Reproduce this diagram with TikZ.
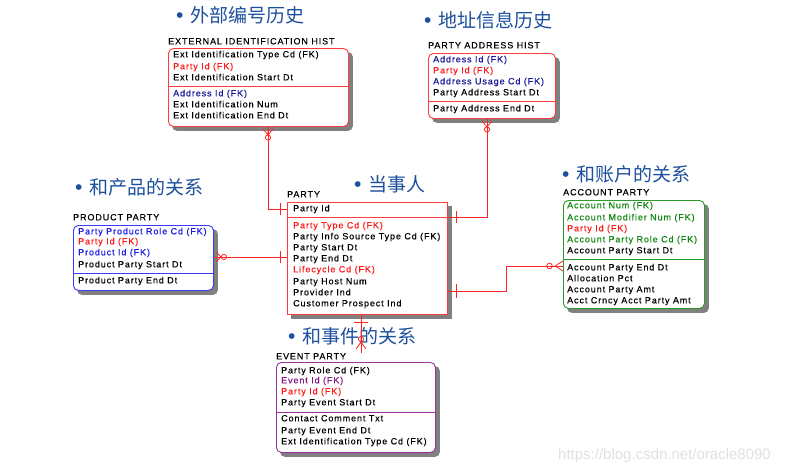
\documentclass[tikz,border=0pt]{standalone}
\usepackage{fontspec}
\setmainfont{Liberation Sans}
\newfontfamily\cjk{Noto Sans CJK SC}
\newfontfamily\bulfont{Liberation Sans}
\newfontfamily\erfont[LetterSpace=10,FakeBold=0.4]{Liberation Sans}
\usetikzlibrary{backgrounds,calc}
\definecolor{hd}{HTML}{1C4F9C}
\definecolor{tred}{HTML}{FF1A1A}
\definecolor{tnavy}{HTML}{1A1A99}
\definecolor{tblue}{HTML}{1A1AE6}
\definecolor{tgreen}{HTML}{118811}
\definecolor{tpurple}{HTML}{881A88}
\definecolor{bred}{HTML}{FF3B3B}
\definecolor{bblue}{HTML}{3A3AFF}
\definecolor{bgreen}{HTML}{2A9A2A}
\definecolor{bpurple}{HTML}{993399}
\definecolor{relred}{HTML}{FF2222}
\tikzset{
  ent/.style={draw, line width=0.9pt, fill=white, rounded corners=5pt, anchor=north west, inner sep=0pt},
  shad/.style={fill=black!50, rounded corners=5pt},
  row/.style={anchor=west, inner sep=0pt, text height=6.5pt, text depth=1.8pt, font=\erfont\fontsize{9}{10}\selectfont},
  ttl/.style={row},
  lab/.style={anchor=west, inner sep=0pt, text=hd, text height=15.5pt, text depth=3pt, font=\cjk\fontsize{19}{21}\selectfont},
  rel/.style={draw=relred, line width=0.8pt},
  sym/.style={draw=relred, line width=0.8pt},
}
\newcommand{\bul}{{\bulfont\fontsize{21}{21}\selectfont\raisebox{-0.5pt}{•}}\hspace{6.5pt}}
\begin{document}
\begin{tikzpicture}[x=1pt,y=-1pt]
\useasboundingbox (0,0) rectangle (792,475);

% ---------- headings ----------
\node[lab] (l1) at (176,16) {\bul 外部编号历史};
\node[lab] (l2) at (424,21) {\bul 地址信息历史};
\node[lab] (l3) at (75,188) {\bul 和产品的关系};
\node[lab] (l4) at (354,185) {\bul 当事人};
\node[lab] (l5) at (562,175) {\bul 和账户的关系};
\node[lab] (l6) at (288,337) {\bul 和事件的关系};

% ---------- EXTERNAL IDENTIFICATION HIST ----------
\node[ttl] (extT) at (168,42) {EXTERNAL IDENTIFICATION HIST};
\node[ent, draw=bred, minimum width=180, minimum height=78] (ext) at (168,48) {};
\draw[bred, line width=0.9pt] (ext.west |- 0,86) -- (ext.east |- 0,86);
\node[row] (ext1) at (173,55) {Ext Identification Type Cd (FK)};
\node[row, text=tred] (ext2) at (173,67) {Party Id (FK)};
\node[row] (ext3) at (173,78) {Ext Identification Start Dt};
\node[row, text=tnavy] (ext4) at (173,94) {Address Id (FK)};
\node[row] (ext5) at (173,105) {Ext Identification Num};
\node[row] (ext6) at (173,116) {Ext Identification End Dt};

% ---------- PARTY ADDRESS HIST ----------
\node[ttl] (adrT) at (428,46) {PARTY ADDRESS HIST};
\node[ent, draw=bred, minimum width=127, minimum height=65] (adr) at (428,53) {};
\draw[bred, line width=0.9pt] (adr.west |- 0,101) -- (adr.east |- 0,101);
\node[row, text=tnavy] (adr1) at (433,60) {Address Id (FK)};
\node[row, text=tred] (adr2) at (433,71) {Party Id (FK)};
\node[row, text=tnavy] (adr3) at (433,82) {Address Usage Cd (FK)};
\node[row] (adr4) at (433,93) {Party Address Start Dt};
\node[row] (adr5) at (433,109) {Party Address End Dt};

% ---------- PRODUCT PARTY ----------
\node[ttl] (prdT) at (73,218) {PRODUCT PARTY};
\node[ent, draw=bblue, minimum width=140, minimum height=65] (prd) at (73,225) {};
\draw[bblue, line width=0.9pt] (prd.west |- 0,273) -- (prd.east |- 0,273);
\node[row, text=tblue] (prd1) at (78,232) {Party Product Role Cd (FK)};
\node[row, text=tred] (prd2) at (78,242) {Party Id (FK)};
\node[row, text=tblue] (prd3) at (78,253) {Product Id (FK)};
\node[row] (prd4) at (78,265) {Product Party Start Dt};
\node[row] (prd5) at (78,281) {Product Party End Dt};

% ---------- PARTY ----------
\node[ttl] (ptyT) at (287,195) {PARTY};
\node[ent, draw=bred, rounded corners=0pt, minimum width=160, minimum height=112] (pty) at (287,202) {};
\draw[bred, line width=0.9pt] (pty.west |- 0,217) -- (pty.east |- 0,217);
\node[row] (pid) at (293,209) {Party Id};
\node[row, text=tred] (pty1) at (293,226) {Party Type Cd (FK)};
\node[row] (pty2) at (293,237) {Party Info Source Type Cd (FK)};
\node[row] (pty3) at (293,248) {Party Start Dt};
\node[row] (pty4) at (293,259) {Party End Dt};
\node[row, text=tred] (pty5) at (293,270) {Lifecycle Cd (FK)};
\node[row] (pty6) at (293,282) {Party Host Num};
\node[row] (pty7) at (293,293) {Provider Ind};
\node[row] (pty8) at (293,304) {Customer Prospect Ind};

% ---------- ACCOUNT PARTY ----------
\node[ttl] (accT) at (563,193) {ACCOUNT PARTY};
\node[ent, draw=bgreen, minimum width=141, minimum height=108] (acc) at (563,200) {};
\draw[bgreen, line width=0.9pt] (acc.west |- 0,259) -- (acc.east |- 0,259);
\node[row, text=tgreen] (acc1) at (567,206) {Account Num (FK)};
\node[row, text=tgreen] (acc2) at (567,218) {Account Modifier Num (FK)};
\node[row, text=tred] (acc3) at (567,229) {Party Id (FK)};
\node[row, text=tgreen] (acc4) at (567,240) {Account Party Role Cd (FK)};
\node[row] (acc5) at (567,251) {Account Party Start Dt};
\node[row] (acc6) at (567,268) {Account Party End Dt};
\node[row] (acc7) at (567,279) {Allocation Pct};
\node[row] (acc8) at (567,290) {Account Party Amt};
\node[row] (acc9) at (567,301) {Acct Crncy Acct Party Amt};

% ---------- EVENT PARTY ----------
\node[ttl] (evtT) at (276,357) {EVENT PARTY};
\node[ent, draw=bpurple, minimum width=159, minimum height=90] (evt) at (276,362) {};
\draw[bpurple, line width=0.9pt] (evt.west |- 0,412) -- (evt.east |- 0,412);
\node[row] (evt1) at (281,371) {Party Role Cd (FK)};
\node[row, text=tpurple] (evt2) at (281,381) {Event Id (FK)};
\node[row, text=tred] (evt3) at (281,392) {Party Id (FK)};
\node[row] (evt4) at (281,403) {Party Event Start Dt};
\node[row] (evt5) at (281,419) {Contact Comment Txt};
\node[row] (evt6) at (281,431) {Party Event End Dt};
\node[row] (evt7) at (281,442) {Ext Identification Type Cd (FK)};

% ---------- shadows ----------
\begin{scope}[on background layer]
  \foreach \b in {ext,adr,prd,acc,evt}
    \fill[shad] ([shift={(4,4)}]\b.north west) rectangle ([shift={(4,4)}]\b.south east);
  \fill[black!50] ([shift={(4,4)}]pty.north west) rectangle ([shift={(4,4)}]pty.south east);
\end{scope}

% ---------- relationships ----------
% EXT HIST -- PARTY
\draw[rel] (ext.south -| 268,0) |- (pty.west |- pid);
\draw[sym] (263,129) -- (268,135) -- (273,129) (268,129) -- (268,135);
\draw[sym] (268,137.5) circle (2.6);
\draw[sym] (280,203) -- (280,215);
% ADDRESS HIST -- PARTY
\draw[rel] (adr.south -| 487,0) |- (pty.east |- 0,217);
\draw[sym] (482,121) -- (487,127) -- (492,121);
\draw[sym] (487,129.5) circle (2.6);
\draw[sym] (456,211) -- (456,223);
% PRODUCT PARTY -- PARTY
\draw[rel] (prd.east |- 0,257) -- (pty.west |- 0,257);
\draw[sym] (216,252) -- (221,257) -- (216,262);
\draw[sym] (224,257) circle (2.6);
\draw[sym] (280,251) -- (280,263);
% PARTY -- ACCOUNT PARTY
\draw[rel] (pty.east |- 0,291) -| (506,266) -- (acc.west |- 0,266);
\draw[sym] (563,261) -- (555,266) -- (563,271);
\draw[sym] (549.5,266) circle (2.8);
\draw[sym] (456,284) -- (456,298);
% PARTY -- EVENT PARTY
\draw[rel] (pty.south -| 361,0) -- (evtT.north -| 361,0);
\draw[sym] (354,322) -- (368,322);
\draw[sym] (361,339) circle (2.6);
\draw[sym] (356,349) -- (361,342) -- (366,349);

% ---------- watermark ----------
\node[anchor=west, inner sep=0pt, text=black!12, font=\fontsize{15}{15}\selectfont] (wm) at (558,456) {https://blog.csdn.net/oracle8090};
\end{tikzpicture}
\end{document}
